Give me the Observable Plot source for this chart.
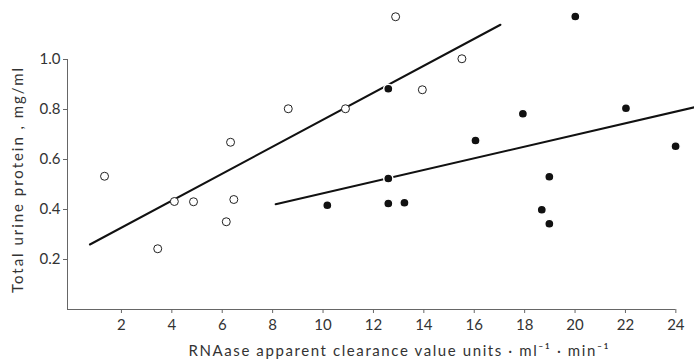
<!DOCTYPE html>
<html><head><meta charset="utf-8">
<script src="https://cdn.jsdelivr.net/npm/d3@7"></script>
<script src="https://cdn.jsdelivr.net/npm/@observablehq/plot@0.6"></script>
<style>body{margin:0;background:#fff}</style>
</head><body><div id="chart"></div>
<script>
// Open circles
const openX = [1.33, 3.44, 4.10, 4.86, 6.16, 6.46, 6.33, 8.62, 10.89, 12.88, 13.94, 15.51];
const openY = [0.533, 0.243, 0.432, 0.431, 0.351, 0.44, 0.669, 0.803, 0.803, 1.171, 0.879, 1.003];
// Filled circles
const filledX = [10.17, 12.59, 12.59, 12.59, 13.23, 16.05, 17.93, 20.01, 22.02, 23.99, 18.98, 18.68, 18.98];
const filledY = [0.417, 0.883, 0.524, 0.424, 0.427, 0.676, 0.783, 1.172, 0.805, 0.653, 0.531, 0.399, 0.343];
// Regression lines (end points)
const fitOpenX = [0.75, 17.04];
const fitOpenY = [0.26, 1.139];
const fitFilledX = [8.12, 24.74];
const fitFilledY = [0.421, 0.809];
// Axes
const xTicks = [2, 4, 6, 8, 10, 12, 14, 16, 18, 20, 22, 24];
const yTicks = [0.2, 0.4, 0.6, 0.8, 1.0];
const yTickLabels = ["0.2", "0.4", "0.6", "0.8", "1.0"];
const xAxisExtent = [-0.14, 24];
const yAxisExtent = [0, 1.0];
const xLabel = "RNAase apparent clearance value units · ml⁻¹ · min⁻¹";
const yLabel = "Total urine protein , mg/ml";

const openPts = openX.map((x, i) => ({x, y: openY[i]}));
const filledPts = filledX.map((x, i) => ({x, y: filledY[i]}));
const line1 = fitOpenX.map((x, i) => ({x, y: fitOpenY[i]}));
const line2 = fitFilledX.map((x, i) => ({x, y: fitFilledY[i]}));

const axisColor = "#666";
const textColor = "#333";

const chart = Plot.plot({
  width: 694,
  height: 361,
  marginLeft: 67,
  marginRight: 0,
  marginTop: 9,
  marginBottom: 52,
  style: {fontFamily: "Lato, 'DejaVu Sans', sans-serif", fontSize: "15px", color: textColor, background: "#fff"},
  x: {domain: [-0.14, 24.74]},
  y: {domain: [0, 1.2]},
  marks: [
    Plot.ruleY([yAxisExtent[0]], {x1: xAxisExtent[0], x2: xAxisExtent[1], stroke: axisColor, strokeWidth: 1}),
    Plot.ruleX([xAxisExtent[0]], {y1: yAxisExtent[0], y2: yAxisExtent[1], stroke: axisColor, strokeWidth: 1}),
    Plot.axisX(xTicks, {tickSize: 4, tickPadding: 6, stroke: axisColor, fill: textColor, fontSize: 15, label: null, tickFormat: d => String(d)}),
    Plot.axisY(yTicks, {tickSize: 4, tickPadding: 3, stroke: axisColor, fill: textColor, fontSize: 15, label: null, tickFormat: (d, i) => yTickLabels[i]}),
    Plot.line(line1, {x: "x", y: "y", stroke: "#111", strokeWidth: 2}),
    Plot.line(line2, {x: "x", y: "y", stroke: "#111", strokeWidth: 2}),
    Plot.dot(openPts, {x: "x", y: "y", r: 4, stroke: "#222", strokeWidth: 1, fill: "white"}),
    Plot.dot(filledPts, {x: "x", y: "y", r: 4.6, fill: "#111", stroke: "white", strokeWidth: 1.5}),
    Plot.text([xLabel], {text: d => d, frameAnchor: "bottom", dx: 17.5, dy: 46, fontSize: 15, fill: textColor}),
    Plot.text([yLabel], {text: d => d, frameAnchor: "left", textAnchor: "middle", lineAnchor: "middle", rotate: -90, dx: -49, dy: 21, fontSize: 15, fill: textColor})
  ]
});

d3.select(chart).selectAll("text").each(function() {
  if (this.textContent === xLabel) { d3.select(this).attr("textLength", 420).attr("lengthAdjust", "spacing"); }
  if (this.textContent === yLabel) { d3.select(this).attr("textLength", 225).attr("lengthAdjust", "spacing"); }
});

document.getElementById("chart").appendChild(chart);
</script>
</body></html>
